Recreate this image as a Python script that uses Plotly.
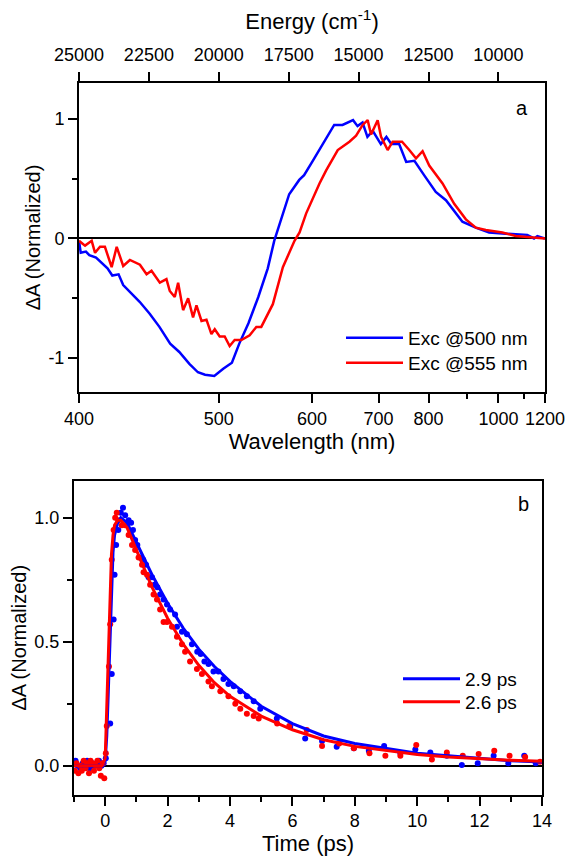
import plotly.graph_objects as go

# ---------------- Panel a: spectra (wavelength in nm, normalized dA) ----------------
wl_exc500 = [400, 401, 404, 406, 410, 414, 417, 420, 424, 427, 431, 438, 445, 452, 460, 467,
             475, 482, 488, 496, 504, 512, 519, 528, 538, 548, 555, 563, 572, 584, 590, 601,
             614, 630, 642, 658, 665, 673, 681, 690, 704, 714, 723, 738, 752, 769, 790, 817,
             842, 868, 886, 925, 968, 1027, 1115, 1146, 1162, 1200]
dA_exc500 = [-0.02, -0.12, -0.11, -0.14, -0.16, -0.21, -0.25, -0.31, -0.30, -0.39, -0.44, -0.53,
             -0.63, -0.74, -0.88, -0.95, -1.05, -1.12, -1.14, -1.15, -1.09, -1.04, -0.88, -0.71,
             -0.49, -0.25, -0.02, 0.16, 0.37, 0.49, 0.53, 0.65, 0.79, 0.95, 0.95, 0.99, 0.94,
             0.97, 0.85, 0.90, 0.79, 0.85, 0.79, 0.79, 0.64, 0.65, 0.53, 0.39, 0.32, 0.21, 0.14,
             0.09, 0.05, 0.04, 0.03, 0.00, 0.02, 0.00]

wl_exc555 = [400, 403.5, 407.4, 409.4, 412.4, 415.4, 419.6, 422.8, 427, 431.4, 438.2, 442.8, 446.3,
             452.3, 457.2, 459.7, 463.5, 466.1, 470, 474, 478, 480.8, 485, 489.2, 493.5, 496.4,
             500.8, 505.3, 509.9, 514.6, 521, 529.2, 536, 541.1, 553.5, 564.7, 578.3, 584.4,
             592.6, 603.2, 609.8, 618.8, 635.1, 652.4, 662.7, 673.2, 681.4, 687.1, 698.4, 704.4,
             716.3, 725.6, 743.7, 758.3, 772.4, 786.7, 801.7, 833.5, 863.5, 895.8, 925.4, 957,
             1014.5, 1066.2, 1123.1, 1200]
dA_exc555 = [-0.02, -0.06, -0.02, -0.12, -0.07, -0.07, -0.24, -0.07, -0.23, -0.18, -0.22, -0.30,
             -0.27, -0.37, -0.34, -0.44, -0.49, -0.37, -0.60, -0.50, -0.66, -0.56, -0.69, -0.68,
             -0.80, -0.76, -0.82, -0.82, -0.90, -0.85, -0.85, -0.81, -0.74, -0.74, -0.55, -0.24,
             -0.02, 0.05, 0.21, 0.37, 0.46, 0.57, 0.74, 0.81, 0.86, 0.95, 0.99, 0.87, 0.99, 0.85,
             0.74, 0.81, 0.81, 0.74, 0.67, 0.73, 0.61, 0.46, 0.29, 0.16, 0.09, 0.07, 0.05, 0.02,
             0.01, 0.00]

wl_ticks = [400, 500, 600, 700, 800, 1000, 1200]
wl_minor = [900, 1100]
energy_ticks = [25000, 22500, 20000, 17500, 15000, 12500, 10000]
wl_range = [400, 1200]

# ---------------- Panel b: kinetics (time in ps, normalized dA) ----------------
t_500 = [-0.95, -0.88, -0.80, -0.72, -0.65, -0.58, -0.50, -0.42, -0.35, -0.28, -0.20, -0.12, -0.05,
         0.02, 0.16, 0.21, 0.27, 0.30, 0.35, 0.42, 0.50, 0.57, 0.64, 0.75, 0.83, 0.89, 0.96, 1.03,
         1.12, 1.22, 1.31, 1.39, 1.50, 1.58, 1.67, 1.76, 1.87, 1.98, 2.08, 2.24, 2.30, 2.46, 2.62,
         2.78, 2.95, 3.06, 3.18, 3.31, 3.47, 3.63, 3.79, 3.95, 4.12, 4.33, 4.54, 4.76, 4.97, 5.50,
         5.93, 6.41, 6.95, 7.42, 7.97, 8.45, 8.94, 9.46, 9.94, 10.42, 10.95, 11.43, 11.94, 12.45,
         12.92, 13.43, 13.80]
dA_500 = [0.02, 0.00, -0.01, 0.01, 0.00, 0.02, -0.01, 0.01, 0.00, 0.01, 0.02, 0.00, 0.01,
          0.03, 0.17, 0.37, 0.59, 0.77, 0.89, 0.95, 1.02, 1.04, 1.01, 0.99, 0.98, 0.95, 0.91, 0.89,
          0.84, 0.83, 0.81, 0.76, 0.76, 0.73, 0.72, 0.69, 0.67, 0.65, 0.63, 0.61, 0.56, 0.54, 0.53,
          0.49, 0.46, 0.45, 0.42, 0.41, 0.38, 0.38, 0.35, 0.33, 0.32, 0.30, 0.28, 0.26, 0.23, 0.19,
          0.157, 0.11, 0.10, 0.077, 0.07, 0.06, 0.08, 0.05, 0.065, 0.053, 0.04, 0.003, 0.01, 0.04,
          0.01, 0.04, 0.01]

t_555 = [-0.97, -0.92, -0.86, -0.80, -0.75, -0.69, -0.63, -0.58, -0.52, -0.47, -0.41, -0.36, -0.30,
         -0.25, -0.19, -0.14, -0.08, -0.03, 0.02, 0.05, 0.12, 0.16, 0.21, 0.27, 0.32, 0.37, 0.42,
         0.53, 0.64, 0.75, 0.86, 0.96, 1.07, 1.18, 1.23, 1.34, 1.44, 1.55, 1.66, 1.76, 1.87, 1.98,
         2.14, 2.30, 2.46, 2.56, 2.72, 2.94, 3.10, 3.31, 3.42, 3.69, 3.95, 4.17, 4.33, 4.54, 4.76,
         4.92, 5.51, 5.90, 6.46, 6.95, 7.50, 7.97, 8.47, 8.98, 9.46, 9.97, 10.47, 10.95, 11.46,
         11.97, 12.47, 12.96, 13.46, 13.94]
dA_555 = [-0.02, 0.01, -0.03, 0.00, -0.02, 0.02, -0.01, 0.01, -0.03, 0.02, 0.01, -0.02, 0.00,
          0.02, -0.01, -0.04, 0.01, -0.05, 0.05, 0.16, 0.40, 0.57, 0.83, 0.95, 1.00, 1.02, 0.99,
          0.97, 0.97, 0.93, 0.89, 0.87, 0.84, 0.81, 0.78, 0.77, 0.73, 0.69, 0.67, 0.63, 0.58, 0.58,
          0.56, 0.52, 0.49, 0.46, 0.42, 0.39, 0.37, 0.34, 0.32, 0.30, 0.28, 0.25, 0.23, 0.21, 0.20,
          0.19, 0.17, 0.16, 0.144, 0.08, 0.09, 0.07, 0.05, 0.04, 0.04, 0.084, 0.025, 0.053, 0.04,
          0.047, 0.06, 0.04, 0.035, 0.016]

fit_t = [-1, -0.1, 0, 0.05, 0.1, 0.15, 0.2, 0.25, 0.3, 0.4, 0.5, 0.7, 1, 1.5, 2, 2.5, 3, 3.5, 4,
         5, 6, 7, 8, 9, 10, 11, 12, 13, 14]
fit_500 = [0, 0, 0.02, 0.12, 0.30, 0.52, 0.72, 0.86, 0.93, 0.98, 1.00, 0.98, 0.90, 0.77, 0.655,
           0.555, 0.47, 0.40, 0.34, 0.24, 0.17, 0.12, 0.09, 0.07, 0.05, 0.04, 0.03, 0.02, 0.015]
fit_555 = [0, 0, 0.03, 0.22, 0.45, 0.68, 0.85, 0.93, 0.97, 0.99, 0.99, 0.96, 0.87, 0.72, 0.595,
           0.49, 0.405, 0.335, 0.28, 0.20, 0.145, 0.105, 0.078, 0.06, 0.045, 0.035, 0.028, 0.022,
           0.018]

legend_a = ["Exc @500 nm", "Exc @555 nm"]
legend_b = ["2.9 ps", "2.6 ps"]

BLUE = "#0000FF"
RED = "#FF0000"
FONT = "Liberation Sans, Arial, sans-serif"


def to_energy(wl):
    return [1e7 / w for w in wl]


fig = go.Figure()

# Panel a traces
fig.add_trace(go.Scatter(x=to_energy(wl_exc500), y=dA_exc500, mode="lines", name=legend_a[0],
                         line=dict(color=BLUE, width=2.5), xaxis="x", yaxis="y", legend="legend"))
fig.add_trace(go.Scatter(x=to_energy(wl_exc555), y=dA_exc555, mode="lines", name=legend_a[1],
                         line=dict(color=RED, width=2.5), xaxis="x", yaxis="y", legend="legend3"))
# invisible trace for the top energy axis
fig.add_trace(go.Scatter(x=to_energy(wl_range), y=[None, None], mode="lines", showlegend=False,
                         hoverinfo="skip", xaxis="x3", yaxis="y"))

# Panel b traces
fig.add_trace(go.Scatter(x=t_500, y=dA_500, mode="markers", showlegend=False,
                         marker=dict(color=BLUE, size=6), xaxis="x2", yaxis="y2"))
fig.add_trace(go.Scatter(x=t_555, y=dA_555, mode="markers", showlegend=False,
                         marker=dict(color=RED, size=6), xaxis="x2", yaxis="y2"))
fig.add_trace(go.Scatter(x=fit_t, y=fit_500, mode="lines", name=legend_b[0],
                         line=dict(color=BLUE, width=3), xaxis="x2", yaxis="y2", legend="legend2"))
fig.add_trace(go.Scatter(x=fit_t, y=fit_555, mode="lines", name=legend_b[1],
                         line=dict(color=RED, width=3), xaxis="x2", yaxis="y2", legend="legend4"))

W, H = 568, 856
axis_common = dict(showline=True, linewidth=2, linecolor="black", mirror=True, showgrid=False,
                   ticks="outside", ticklen=9, tickwidth=2, tickcolor="black", automargin=False,
                   tickfont=dict(size=18, color="black", family=FONT))


def leg(x_px, y_px):
    return dict(x=x_px / W, y=1 - y_px / H, xanchor="left", yanchor="middle",
                bgcolor="rgba(0,0,0,0)", font=dict(size=19), itemwidth=57)


fig.update_layout(
    width=W, height=H,
    margin=dict(l=0, r=0, t=0, b=0, autoexpand=False),
    paper_bgcolor="white", plot_bgcolor="white",
    font=dict(family=FONT, color="black"),
    xaxis=dict(domain=[79 / W, 545 / W], anchor="y", range=to_energy(wl_range),
               tickmode="array", tickvals=to_energy(wl_ticks), ticktext=[str(w) for w in wl_ticks],
               minor=dict(tickmode="array", tickvals=to_energy(wl_minor), ticks="outside",
                          ticklen=5, tickwidth=2, tickcolor="black"),
               zeroline=False,
               title=dict(text="Wavelength (nm)", font=dict(size=22), standoff=4),
               **axis_common),
    xaxis3=dict(overlaying="x", anchor="y", side="top", range=to_energy(wl_range),
                tickmode="array", tickvals=energy_ticks, ticktext=[str(e) for e in energy_ticks],
                zeroline=False, ticklabelstandoff=4,
                title=dict(text="Energy (cm<sup>-1</sup>)", font=dict(size=22), standoff=9),
                **axis_common),
    yaxis=dict(domain=[1 - 392 / H, 1 - 83 / H], anchor="x", range=[-1.285, 1.301],
               tickmode="array", tickvals=[-1, 0, 1], ticktext=["-1", "0", "1"],
               minor=dict(tickmode="array", tickvals=[-0.5, 0.5], ticks="outside",
                          ticklen=5, tickwidth=2, tickcolor="black"),
               zeroline=True, zerolinecolor="black", zerolinewidth=2,
               title=dict(text="ΔA (Normalized)", font=dict(size=20), standoff=2),
               **axis_common),
    xaxis2=dict(domain=[74 / W, 542 / W], anchor="y2", range=[-1, 14],
                tickmode="array", tickvals=list(range(0, 15, 2)),
                minor=dict(tickmode="array", tickvals=list(range(-1, 15, 2)), ticks="outside",
                           ticklen=5, tickwidth=2, tickcolor="black"),
                zeroline=False,
                title=dict(text="Time (ps)", font=dict(size=22), standoff=4),
                **axis_common),
    yaxis2=dict(domain=[1 - 794.5 / H, 1 - 481 / H], anchor="x2", range=[-0.116, 1.148],
                tickmode="array", tickvals=[0, 0.5, 1], ticktext=["0.0", "0.5", "1.0"],
                minor=dict(tickmode="array", tickvals=[0.25, 0.75], ticks="outside",
                           ticklen=5, tickwidth=2, tickcolor="black"),
                zeroline=True, zerolinecolor="black", zerolinewidth=2,
                title=dict(text="ΔA (Normalized)", font=dict(size=20), standoff=2),
                **axis_common),
    legend=leg(341, 338),
    legend3=leg(341, 363),
    legend2=leg(398, 679),
    legend4=leg(398, 702),
    annotations=[
        dict(text="a", x=522 / W, y=1 - 108 / H, xref="paper", yref="paper",
             xanchor="center", yanchor="middle", showarrow=False, font=dict(size=20)),
        dict(text="b", x=523 / W, y=1 - 504 / H, xref="paper", yref="paper",
             xanchor="center", yanchor="middle", showarrow=False, font=dict(size=20)),
    ],
)

fig.write_html("out.html", config={"displayModeBar": False},
               post_script="document.body.style.margin='0';")
